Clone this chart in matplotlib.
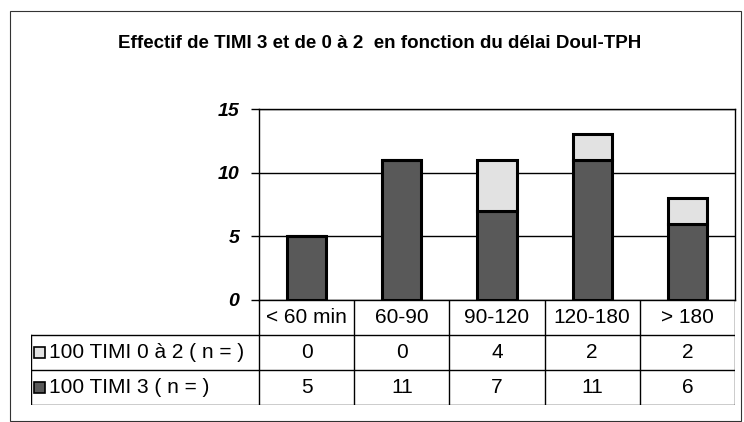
import matplotlib.pyplot as plt
from matplotlib.patches import Rectangle

plt.rcParams['font.family'] = ['Liberation Sans', 'DejaVu Sans']

# données
categories = ['< 60 min', '60-90', '90-120', '120-180', '> 180']
timi3 = [5, 11, 7, 11, 6]
timi02 = [0, 0, 4, 2, 2]
row_labels = ['100 TIMI 0 à 2 ( n = )', '100 TIMI 3 ( n = )']
yticks = [0, 5, 10, 15]

dark = '#595959'
light = '#e2e2e2'

W, H = 744, 422
fig = plt.figure(figsize=(W / 100, H / 100), dpi=100)

# cadre extérieur
fig.add_artist(Rectangle((10 / W, 1 / H), 731 / W, 410 / H, transform=fig.transFigure,
                         fill=False, edgecolor='#333333', linewidth=0.8))

fig.text(380 / W, 1 - 44 / H, 'Effectif de TIMI 3 et de 0 à 2  en fonction du délai Doul-TPH',
         ha='center', va='center', fontsize=13.5, fontweight='bold')

# zone du graphique
ax = fig.add_axes([259 / W, 122 / H, 476 / W, 191 / H])
x = list(range(len(categories)))
ax.bar(x, timi3, width=0.41, color=dark, edgecolor='black', linewidth=2.2, zorder=3)
ax.bar(x, timi02, width=0.41, bottom=timi3, color=light, edgecolor='black', linewidth=2.2, zorder=3)
ax.set_xlim(-0.5, len(categories) - 0.5)
ax.set_ylim(0, 15)
ax.set_yticks(yticks)
ax.set_yticklabels([str(t) for t in yticks], fontsize=14, fontweight='bold', fontstyle='italic')
ax.tick_params(axis='y', length=6, width=1, pad=8)
ax.set_xticks([])
ax.grid(axis='y', color='black', linewidth=1, zorder=0)
for s in ax.spines.values():
    s.set_linewidth(1)

# tableau de données sous le graphique
col_w = 476 / len(categories)
xl = -0.5 - 228 / col_w
xr = len(categories) - 0.5
tax = fig.add_axes([31 / W, 17 / H, 704 / W, 105 / H])
tax.set_xlim(xl, xr)
tax.set_ylim(0, 105)
tax.axis('off')
for y in [0, 35, 70]:
    tax.plot([xl, xr], [y, y], color='black', linewidth=1)
tax.plot([xl, xl], [0, 70], color='black', linewidth=1)
for i in range(len(categories) + 1):
    tax.plot([i - 0.5, i - 0.5], [0, 105], color='black', linewidth=1)

fs = 15
for i, c in enumerate(categories):
    tax.text(i, 87.5, c, ha='center', va='center', fontsize=fs)
    tax.text(i, 52.5, str(timi02[i]), ha='center', va='center', fontsize=fs)
    tax.text(i, 17.5, str(timi3[i]), ha='center', va='center', fontsize=fs)

for yc, lab, col in [(52.5, row_labels[0], light), (17.5, row_labels[1], dark)]:
    tax.add_patch(Rectangle((xl + 0.03, yc - 5.5), 0.115, 11, facecolor=col,
                            edgecolor='black', linewidth=1.2))
    tax.text(xl + 0.19, yc, lab, ha='left', va='center', fontsize=fs)

fig.savefig('out.png', dpi=100)
